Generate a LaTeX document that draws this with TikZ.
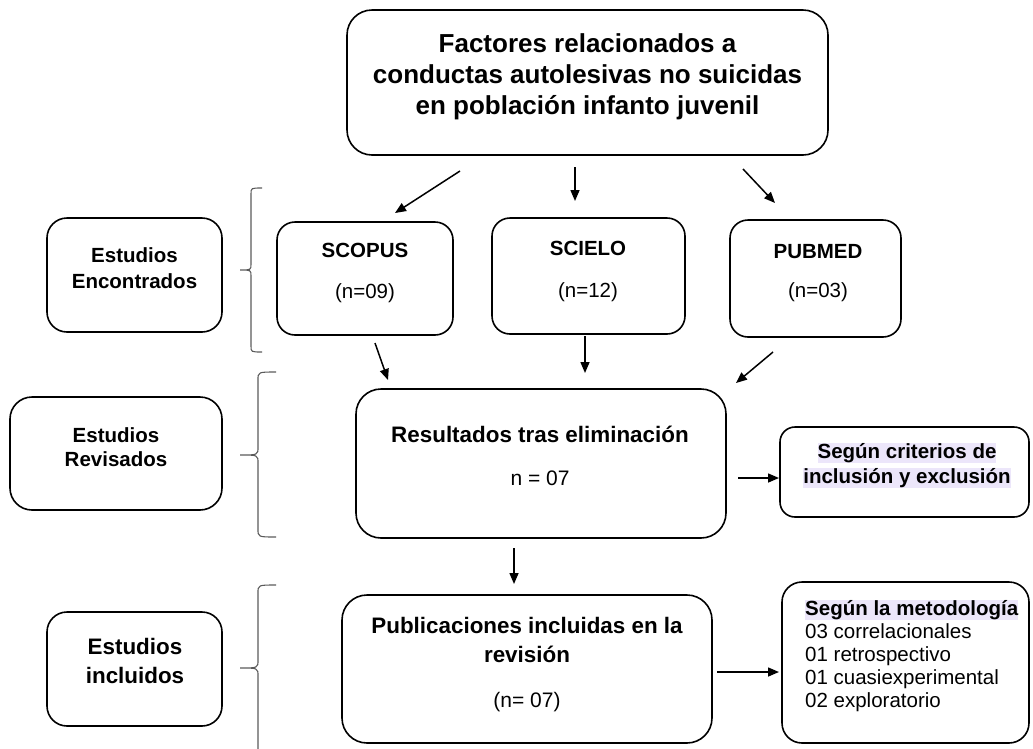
\documentclass[tikz,border=0pt]{standalone}
\usepackage{fontspec}
\setmainfont{Liberation Sans}
\usetikzlibrary{arrows.meta}
\definecolor{hl}{RGB}{236,230,250}
\definecolor{bracegray}{RGB}{90,90,90}
\newcommand{\fA}{\fontsize{20.5}{24}\selectfont}
\newcommand{\fB}{\fontsize{22.4}{26}\selectfont}
\newcommand{\fT}{\fontsize{26}{30}\selectfont}
\begin{document}
\begin{tikzpicture}[x=1pt,y=-1pt,
  box/.style={draw,line width=1.6pt,rounded corners=#1,inner sep=0pt},
  box/.default=18pt,
  txt/.style={anchor=base,inner sep=0pt},
  bt/.style={txt,font=\fA\bfseries},
  rt/.style={txt,font=\fA},
  hltxt/.style={anchor=base,inner xsep=0pt,inner ysep=0pt,fill=hl,text height=15.5pt,text depth=5pt,font=\fA\bfseries},
  arr/.style={line width=1.5pt,-{Triangle[length=11pt,width=9pt]}},
  brc/.style={draw=bracegray,line width=1.1pt}]
\useasboundingbox (0,0) rectangle (1033,748);
% boxes
\node[box=25pt,minimum width=481pt,minimum height=145pt] (title) at (587.5,82.5) {};
\node[box=20pt,minimum width=175pt,minimum height=114pt] (enc) at (134.5,275) {};
\node[box=22pt,minimum width=212pt,minimum height=113pt] (rev) at (116,453.5) {};
\node[box=20pt,minimum width=175pt,minimum height=114pt] (inc) at (134.5,669) {};
\node[box,minimum width=176pt,minimum height=113pt] (scopus) at (365,278.5) {};
\node[box,minimum width=193pt,minimum height=116pt] (scielo) at (588.5,276) {};
\node[box,minimum width=171pt,minimum height=117pt] (pubmed) at (815.5,278.5) {};
\node[box=25pt,minimum width=370pt,minimum height=149pt] (res) at (541,463.5) {};
\node[box=15pt,minimum width=249pt,minimum height=90pt] (crit) at (904.5,472) {};
\node[box=25pt,minimum width=370pt,minimum height=148pt] (pub) at (527,669) {};
\node[box=20pt,minimum width=247pt,minimum height=161pt] (met) at (905.5,662.5) {};
% texts
\node[txt,font=\fT\bfseries] (t1) at (587.5,52) {Factores relacionados a};
\node[txt,font=\fT\bfseries] (t2) at (587.5,83) {conductas autolesivas no suicidas};
\node[txt,font=\fT\bfseries] (t3) at (587.5,114) {en población infanto juvenil};
\node[bt] (e1) at (134.5,262) {Estudios};
\node[bt] (e2) at (134.5,288) {Encontrados};
\node[bt] (r1) at (116,442) {Estudios};
\node[bt] (r2) at (116,466) {Revisados};
\node[txt,font=\fB\bfseries] (i1) at (135,654) {Estudios};
\node[txt,font=\fB\bfseries] (i2) at (135,683) {incluidos};
\node[bt] (s1) at (365,257) {SCOPUS};
\node[rt] (s2) at (365,298) {(n=09)};
\node[bt] (c1) at (588,255) {SCIELO};
\node[rt] (c2) at (588,297) {(n=12)};
\node[bt] (p1) at (818,258) {PUBMED};
\node[rt] (p2) at (818,297) {(n=03)};
\node[txt,font=\fB\bfseries] (res1) at (540,442) {Resultados tras eliminación};
\node[txt,font=\fontsize{21}{25}\selectfont] (res2) at (540,485) {n = 07};
\node[txt,font=\fB\bfseries] (pub1) at (527,633) {Publicaciones incluidas en la};
\node[txt,font=\fB\bfseries] (pub2) at (527,662) {revisión};
\node[txt,font=\fontsize{21}{25}\selectfont] (pub3) at (527,707) {(n= 07)};
\node[hltxt] (cr1) at (907,458) {Según criterios de};
\node[hltxt] (cr2) at (907,483) {inclusión y exclusión};
\node[hltxt,anchor=base west] (m1) at (805,615) {Según la metodología};
\node[rt,anchor=base west] (m2) at (805,638) {03 correlacionales};
\node[rt,anchor=base west] (m3) at (805,661) {01 retrospectivo};
\node[rt,anchor=base west] (m4) at (805,684) {01 cuasiexperimental};
\node[rt,anchor=base west] (m5) at (805,707) {02 exploratorio};
% arrow end points
\coordinate (a1s) at (460,171); \coordinate (a1e) at (395,213);
\coordinate (a2s) at (575,167); \coordinate (a2e) at (575,201);
\coordinate (a3s) at (743,169); \coordinate (a3e) at (775,203);
\coordinate (a4s) at (375,343); \coordinate (a4e) at (388,380);
\coordinate (a5s) at (585,336); \coordinate (a5e) at (585,373);
\coordinate (a6s) at (773,352); \coordinate (a6e) at (736,383);
\coordinate (a7s) at (738,478); \coordinate (a7e) at (779,478);
\coordinate (a8s) at (514,548); \coordinate (a8e) at (514,584);
\coordinate (a9s) at (717,672); \coordinate (a9e) at (779,672);
\foreach \i in {1,...,9} {\draw[arr] (a\i s) -- (a\i e);}
% braces
\draw[brc] (262,188) .. controls (251,188) .. (251,194) -- (251,264) .. controls (251,270) .. (240,270)
  .. controls (251,270) .. (251,276) -- (251,346) .. controls (251,352) .. (262,352);
\draw[brc] (276,372) .. controls (258,372) .. (258,380) -- (258,447) .. controls (258,455) .. (240,455)
  .. controls (258,455) .. (258,463) -- (258,529) .. controls (258,537) .. (276,537);
\draw[brc] (276,585) .. controls (258,585) .. (258,593) -- (258,660) .. controls (258,668) .. (240,668)
  .. controls (258,668) .. (258,676) -- (258,760);
\end{tikzpicture}
\end{document}
